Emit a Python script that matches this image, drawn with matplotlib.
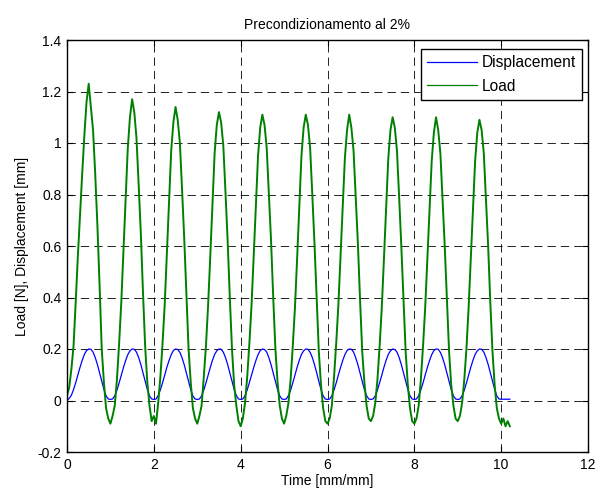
import numpy as np
import matplotlib
matplotlib.use("Agg")
import matplotlib.pyplot as plt

plt.rcParams['font.family'] = ['Liberation Sans', 'DejaVu Sans']

title = "Precondizionamento al 2%"
xlabel = "Time [mm/mm]"
ylabel = "Load [N], Displacement [mm]"
series_names = ["Displacement", "Load"]
xticks = [0, 2, 4, 6, 8, 10, 12]
yticks = [-0.2, 0, 0.2, 0.4, 0.6, 0.8, 1.0, 1.2, 1.4]
yticklabels = ["-0.2", "0", "0.2", "0.4", "0.6", "0.8", "1", "1.2", "1.4"]

# time samples every 0.05 from 0 to 10.2
time = np.round(np.arange(0, 205) * 0.05, 2)

displacement = [
    0.000, 0.008, 0.020, 0.042, 0.069, 0.099, 0.129, 0.156, 0.179, 0.194, 0.200, 0.199, 0.188, 0.167, 0.140, 0.108, 0.075, 0.043, 0.018, 0.006,
    0.004, 0.006, 0.018, 0.040, 0.068, 0.098, 0.128, 0.155, 0.178, 0.193, 0.200, 0.199, 0.188, 0.167, 0.140, 0.108, 0.075, 0.043, 0.018, 0.006,
    0.004, 0.006, 0.019, 0.041, 0.068, 0.099, 0.129, 0.155, 0.178, 0.194, 0.200, 0.198, 0.187, 0.166, 0.139, 0.107, 0.074, 0.042, 0.018, 0.006,
    0.004, 0.006, 0.018, 0.040, 0.068, 0.098, 0.128, 0.156, 0.179, 0.193, 0.200, 0.199, 0.188, 0.167, 0.140, 0.108, 0.075, 0.043, 0.019, 0.006,
    0.004, 0.006, 0.018, 0.041, 0.069, 0.099, 0.128, 0.155, 0.178, 0.194, 0.200, 0.198, 0.188, 0.166, 0.139, 0.107, 0.075, 0.042, 0.018, 0.006,
    0.004, 0.006, 0.019, 0.040, 0.068, 0.098, 0.129, 0.156, 0.179, 0.193, 0.200, 0.199, 0.187, 0.167, 0.140, 0.108, 0.074, 0.043, 0.018, 0.006,
    0.004, 0.006, 0.018, 0.041, 0.068, 0.099, 0.128, 0.155, 0.178, 0.194, 0.200, 0.199, 0.188, 0.166, 0.139, 0.107, 0.075, 0.042, 0.019, 0.006,
    0.004, 0.006, 0.018, 0.040, 0.069, 0.098, 0.129, 0.156, 0.179, 0.193, 0.200, 0.198, 0.188, 0.167, 0.140, 0.108, 0.075, 0.043, 0.018, 0.006,
    0.004, 0.006, 0.019, 0.041, 0.068, 0.099, 0.128, 0.155, 0.178, 0.194, 0.200, 0.199, 0.187, 0.166, 0.139, 0.107, 0.074, 0.042, 0.018, 0.006,
    0.004, 0.006, 0.018, 0.040, 0.068, 0.098, 0.129, 0.156, 0.179, 0.193, 0.200, 0.199, 0.188, 0.167, 0.140, 0.108, 0.075, 0.043, 0.018, 0.006,
    0.005, 0.005, 0.005, 0.005, 0.005,
]

load = [
    0.02, 0.05, 0.12, 0.21, 0.38, 0.56, 0.72, 0.88, 1.03, 1.16, 1.23, 1.14, 1.05, 0.88, 0.68, 0.45, 0.20, 0.07, -0.03, -0.07,
    -0.09, -0.06, -0.02, 0.08, 0.22, 0.38, 0.58, 0.79, 0.98, 1.10, 1.17, 1.12, 1.02, 0.84, 0.65, 0.42, 0.21, 0.07, -0.02, -0.08,
    -0.06, -0.09, -0.01, 0.09, 0.22, 0.37, 0.57, 0.77, 0.97, 1.08, 1.14, 1.09, 1.00, 0.82, 0.63, 0.41, 0.20, 0.07, -0.03, -0.07,
    -0.09, -0.06, -0.02, 0.09, 0.21, 0.37, 0.56, 0.76, 0.96, 1.07, 1.12, 1.08, 0.99, 0.81, 0.62, 0.40, 0.20, 0.06, -0.02, -0.08,
    -0.10, -0.07, -0.01, 0.09, 0.22, 0.37, 0.56, 0.76, 0.95, 1.06, 1.11, 1.07, 0.98, 0.80, 0.62, 0.40, 0.20, 0.07, -0.02, -0.07,
    -0.09, -0.06, -0.01, 0.08, 0.21, 0.36, 0.55, 0.75, 0.95, 1.06, 1.11, 1.07, 0.98, 0.80, 0.61, 0.40, 0.19, 0.06, -0.03, -0.08,
    -0.09, -0.07, -0.02, 0.09, 0.22, 0.37, 0.56, 0.75, 0.94, 1.05, 1.11, 1.06, 0.97, 0.79, 0.61, 0.39, 0.19, 0.07, -0.02, -0.07,
    -0.08, -0.06, -0.01, 0.08, 0.21, 0.36, 0.55, 0.75, 0.94, 1.05, 1.10, 1.06, 0.97, 0.79, 0.60, 0.39, 0.19, 0.06, -0.03, -0.08,
    -0.09, -0.07, -0.02, 0.08, 0.21, 0.36, 0.55, 0.74, 0.93, 1.04, 1.10, 1.05, 0.96, 0.78, 0.60, 0.39, 0.19, 0.06, -0.02, -0.07,
    -0.08, -0.06, -0.01, 0.08, 0.20, 0.36, 0.55, 0.74, 0.93, 1.04, 1.09, 1.05, 0.96, 0.78, 0.60, 0.38, 0.19, 0.06, -0.03, -0.07,
    -0.09, -0.07, -0.10, -0.08, -0.10,
]

fig = plt.figure(figsize=(5.98, 4.93), dpi=100)
ax = fig.add_axes([67 / 598, 1 - 452 / 493, (588 - 67) / 598, (452 - 40) / 493])

ax.plot(time, displacement, color="#0000ff", lw=0.9, label=series_names[0])
ax.plot(time, load, color="#008000", lw=1.4, label=series_names[1])

ax.set_xlim(0, 12)
ax.set_ylim(-0.2, 1.4)
ax.set_xticks(xticks)
ax.set_yticks(yticks)
ax.set_xticklabels([str(v) for v in xticks])
ax.set_yticklabels(yticklabels)
ax.tick_params(direction="in", top=True, right=True, length=4, width=0.8, labelsize=10, pad=4)
ax.grid(True, color="black", linestyle=(0, (10, 6)), linewidth=0.6)
for s in ax.spines.values():
    s.set_linewidth(1.0)

ax.set_title(title, fontsize=10, pad=8)
ax.set_xlabel(xlabel, fontsize=10, labelpad=2)
ax.set_ylabel(ylabel, fontsize=10, labelpad=6)

leg = ax.legend(loc="upper right", bbox_to_anchor=((582 - 67) / 521, (452 - 49) / 412),
                borderaxespad=0, fontsize=11.2, frameon=True, fancybox=False,
                edgecolor="black", framealpha=1, handlelength=3.2, handletextpad=0.3,
                borderpad=0.4, labelspacing=0.55)
leg.get_frame().set_linewidth(1.0)
for h in leg.get_lines():
    h.set_linewidth(0.9)

fig.savefig("out.png", dpi=100)
